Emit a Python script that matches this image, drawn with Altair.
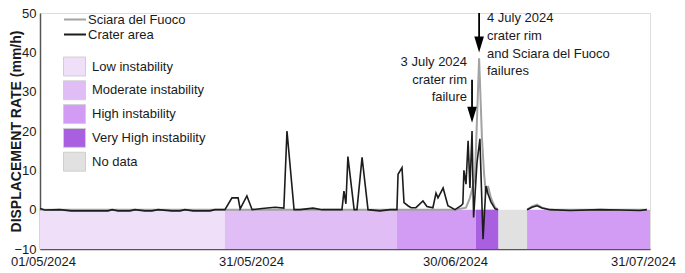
import altair as alt
import pandas as pd

# ---------------- data ----------------
crater_dates = [
    "2024-05-01T00:00", "2024-05-01T17:00", "2024-05-03T20:00", "2024-05-05T10:00",
    "2024-05-08T03:00", "2024-05-10T16:00", "2024-05-11T06:00", "2024-05-12T02:00",
    "2024-05-13T19:00", "2024-05-14T12:00", "2024-05-15T22:00", "2024-05-16T22:00",
    "2024-05-17T19:00", "2024-05-19T18:00", "2024-05-20T22:00", "2024-05-21T15:00",
    "2024-05-22T18:00", "2024-05-25T04:00", "2024-05-25T21:00", "2024-05-27T07:00",
    "2024-05-28T07:00", "2024-05-29T04:00", "2024-05-29T11:00", "2024-05-30T10:00",
    "2024-05-31T04:00", "2024-06-01T15:00", "2024-06-03T13:00", "2024-06-04T20:00",
    "2024-06-05T07:00", "2024-06-06T08:00", "2024-06-07T05:00", "2024-06-09T03:00",
    "2024-06-10T11:00", "2024-06-13T09:00", "2024-06-13T16:00", "2024-06-13T23:00",
    "2024-06-14T06:00", "2024-06-15T04:00", "2024-06-15T14:00", "2024-06-16T08:00",
    "2024-06-17T05:00", "2024-06-18T23:00", "2024-06-20T11:00", "2024-06-21T11:00",
    "2024-06-21T15:00", "2024-06-22T05:00", "2024-06-22T12:00", "2024-06-23T02:00",
    "2024-06-23T13:00", "2024-06-24T06:00", "2024-06-25T07:00", "2024-06-25T21:00",
    "2024-06-26T18:00", "2024-06-27T05:00", "2024-06-27T12:00", "2024-06-28T06:00",
    "2024-06-28T23:00", "2024-06-30T00:00", "2024-06-30T23:00", "2024-07-01T06:00",
    "2024-07-01T10:00", "2024-07-01T18:00", "2024-07-02T02:00", "2024-07-02T09:00",
    "2024-07-02T17:00", "2024-07-02T23:00", "2024-07-03T12:00", "2024-07-03T23:00",
    "2024-07-04T11:00", "2024-07-04T22:00", "2024-07-05T06:00", "2024-07-05T17:00",
    "2024-07-06T09:00", "2024-07-06T20:00",
    "2024-07-11T11:00", "2024-07-12T06:00", "2024-07-13T01:00", "2024-07-13T20:00",
    "2024-07-15T02:00", "2024-07-18T07:00", "2024-07-23T01:00", "2024-07-26T06:00",
    "2024-07-29T10:00", "2024-07-30T12:00",
]
crater_values = [
    0.3, -0.1, 0.0, -0.3,
    -0.3, -0.3, 0.0, -0.3,
    -0.3, 0.0, -0.3, -0.3,
    0.0, -0.3, -0.3, 0.0,
    -0.3, -0.3, 0.0, 0.0,
    3.0, 3.0, 0.2, 3.5,
    0.0, 0.3, 0.6, 0.4,
    20.0, 0.0, 0.0, 0.4,
    0.0, 0.0, 4.7, 1.5,
    13.5, 0.0, 0.0, 13.3,
    0.0, -0.3, 0.0, 0.0,
    9.0, 10.7, 1.8, 1.0,
    0.5, 0.5, 2.2, 0.8,
    0.5, 4.2, 3.0, 5.5,
    1.0, 0.0, 1.0, 1.5,
    10.0, 6.5, 17.5, 5.5,
    20.0, -2.0, 12.0, 18.0,
    -7.5, 6.0, 4.0, 2.0,
    0.2, 0.0,
    0.0, 0.6, 1.0, 0.4,
    0.0, -0.2, 0.0, -0.1,
    -0.2, 0.0,
]
crater_segment = [1] * 74 + [2] * 10

sciara_dates = [
    "2024-05-01T00:00", "2024-06-30T00:00", "2024-07-01T18:00", "2024-07-02T09:00",
    "2024-07-03T04:00", "2024-07-03T20:00", "2024-07-04T07:00", "2024-07-04T15:00",
    "2024-07-04T22:00", "2024-07-05T06:00", "2024-07-05T17:00", "2024-07-06T09:00",
    "2024-07-06T20:00",
    "2024-07-11T11:00", "2024-07-12T06:00", "2024-07-13T01:00", "2024-07-13T20:00",
    "2024-07-15T02:00", "2024-07-30T12:00",
]
sciara_values = [
    0.0, 0.0, 0.5, 3.0,
    8.0, 38.5, 18.0, 9.0,
    4.0, 6.0, 3.0, 0.5,
    0.0,
    0.0, 0.8, 1.3, 0.5,
    0.0, 0.0,
]
sciara_segment = [1] * 13 + [2] * 6

band_levels = ["Low instability", "Moderate instability", "High instability",
               "Very High instability", "No data", "High instability"]
band_start = ["2024-05-01T00:00", "2024-05-27T07:00", "2024-06-21T11:00",
              "2024-07-03T08:00", "2024-07-06T22:00", "2024-07-11T11:00"]
band_end = ["2024-05-27T07:00", "2024-06-21T11:00", "2024-07-03T08:00",
            "2024-07-06T22:00", "2024-07-11T11:00", "2024-07-31T00:00"]
band_low = -10
band_high = 0

level_names = ["Low instability", "Moderate instability", "High instability",
               "Very High instability", "No data"]
level_colors = ["#efdff9", "#e0bdf5", "#d39cf4", "#a960e0", "#e1e1e1"]

series_names = ["Sciara del Fuoco", "Crater area"]
series_colors = ["#a3a3a3", "#1c1c1c"]

event_dates = ["2024-07-02T17:00", "2024-07-03T20:00"]
event_arrow_top = [33.0, 50.0]
event_head_top = [26.1, 43.9]
event_head_mid = [24.1, 42.0]

note_texts = ["3 July 2024\ncrater rim\nfailure",
              "4 July 2024\ncrater rim\nand Sciara del Fuoco\nfailures"]
note_dates = ["2024-07-01T22:00", "2024-07-05T02:00"]
note_values = [37.5, 48.7]

# axis ticks: days since 01/05/2024 and their labels
tick_days = [0, 30, 60, 91]
tick_labels = ["01/05/2024", "31/05/2024", "30/06/2024", "31/07/2024"]
y_ticks = [-10, 0, 10, 20, 30, 40, 50]

START = pd.Timestamp("2024-05-01T00:00")


def days(dates):
    return [(pd.Timestamp(d) - START) / pd.Timedelta(days=1) for d in dates]


# ---------------- tables ----------------
crater_df = pd.DataFrame({"day": days(crater_dates), "rate": crater_values,
                          "seg": crater_segment, "series": "Crater area"})
sciara_df = pd.DataFrame({"day": days(sciara_dates), "rate": sciara_values,
                          "seg": sciara_segment, "series": "Sciara del Fuoco"})
band_df = pd.DataFrame({"start": days(band_start), "end": days(band_end),
                        "level": band_levels, "lo": band_low, "hi": band_high})
arrow_df = pd.DataFrame({"day": days(event_dates), "top": event_arrow_top,
                         "htop": event_head_top, "hmid": event_head_mid})
note1_df = pd.DataFrame({"day": days(note_dates[:1]), "v": note_values[:1], "t": note_texts[:1]})
note2_df = pd.DataFrame({"day": days(note_dates[1:]), "v": note_values[1:], "t": note_texts[1:]})

label_expr = "".join(f"datum.value == {d} ? '{t}' : " for d, t in zip(tick_days, tick_labels)) + "''"

FONT = "Liberation Sans"
TXT = "#1a1a1a"

W, H = 610, 236
xscale = alt.Scale(type="linear", domain=tick_days, range=[0, 211, 415, 610],
                   nice=False, zero=False)
yscale = alt.Scale(domain=[-10, 50], nice=False, zero=False)

xaxis = alt.Axis(values=tick_days, title=None, ticks=False, grid=False,
                 labelExpr=label_expr,
                 labelFontSize=13, labelColor=TXT, labelFont=FONT,
                 labelPadding=6, labelOverlap=False, labelFlush=False,
                 labelOffset={"condition": [{"test": "datum.value == 0", "value": 3},
                                            {"test": "datum.value == 91", "value": -7}],
                              "value": 0},
                 domainColor="#555555", domainWidth=1.5)
yaxis = alt.Axis(values=y_ticks, title="DISPLACEMENT RATE (mm/h)", ticks=False, grid=False,
                 labelFontSize=13, labelColor=TXT, labelFont=FONT, labelPadding=4,
                 labelOverlap=False,
                 titleFont=FONT, titleFontSize=14, titleFontWeight="bold", titleColor=TXT,
                 titleX=-24, titleY=H / 2, titleBaseline="middle", titleAlign="center",
                 titleAngle=270,
                 domainColor="#555555", domainWidth=1.5)


def X(field):
    return alt.X(field, scale=xscale, axis=xaxis)


def Y(field):
    return alt.Y(field, scale=yscale, axis=yaxis)


bands = alt.Chart(band_df).mark_rect().encode(
    x=X("start:Q"),
    x2="end:Q",
    y=Y("lo:Q"),
    y2="hi:Q",
    fill=alt.Fill("level:N",
                  scale=alt.Scale(domain=level_names, range=level_colors),
                  legend=alt.Legend(orient="none", legendX=23, legendY=42, title=None,
                                    symbolType="M-1,-0.86H1V0.86H-1Z", symbolSize=484,
                                    symbolStrokeColor="#cfcfcf", symbolStrokeWidth=1,
                                    symbolOpacity=1,
                                    labelFontSize=13, labelFont=FONT, labelColor=TXT,
                                    labelOffset=6, rowPadding=0.8, padding=0,
                                    labelLimit=300)),
)

line_legend = alt.Legend(orient="none", legendX=23, legendY=-1, title=None,
                         symbolType="stroke", symbolSize=484, symbolStrokeWidth=2,
                         labelFontSize=13, labelFont=FONT, labelColor=TXT,
                         labelOffset=1, rowPadding=0, padding=0, clipHeight=15,
                         labelLimit=300)
stroke_scale = alt.Scale(domain=series_names, range=series_colors)

sciara = alt.Chart(sciara_df).mark_line(strokeWidth=2).encode(
    x=X("day:Q"), y=Y("rate:Q"),
    stroke=alt.Stroke("series:N", scale=stroke_scale, legend=line_legend),
    detail="seg:N",
)
crater = alt.Chart(crater_df).mark_line(strokeWidth=1.6).encode(
    x=X("day:Q"), y=Y("rate:Q"),
    stroke=alt.Stroke("series:N", scale=stroke_scale, legend=line_legend),
    detail="seg:N",
)

arrow_shafts = alt.Chart(arrow_df).mark_rule(color="#000000", strokeWidth=1.8).encode(
    x=X("day:Q"), y=Y("top:Q"), y2="htop:Q")
arrow_heads = alt.Chart(arrow_df).mark_point(
    shape="M-0.6,-1L0.6,-1L0,1Z", size=256, filled=True, color="#000000", opacity=1
).encode(x=X("day:Q"), y=Y("hmid:Q"))

note1 = alt.Chart(note1_df).mark_text(
    align="right", baseline="middle", lineBreak="\n", lineHeight=17.5,
    fontSize=13, font=FONT, color=TXT
).encode(x=X("day:Q"), y=Y("v:Q"), text="t:N")
note2 = alt.Chart(note2_df).mark_text(
    align="left", baseline="middle", lineBreak="\n", lineHeight=17.7,
    fontSize=13, font=FONT, color=TXT
).encode(x=X("day:Q"), y=Y("v:Q"), text="t:N")

chart = alt.layer(bands, sciara, crater, arrow_shafts, arrow_heads, note1, note2).resolve_scale(
    stroke="shared"
).properties(
    width=W, height=H,
    autosize=alt.AutoSizeParams(type="none"),
    padding={"left": 32, "top": 5, "right": 27, "bottom": 24},
).configure_view(
    stroke="#444444", strokeWidth=1.3
).configure(background="white")

chart.save("out.html", embed_options={"renderer": "svg", "actions": False})
